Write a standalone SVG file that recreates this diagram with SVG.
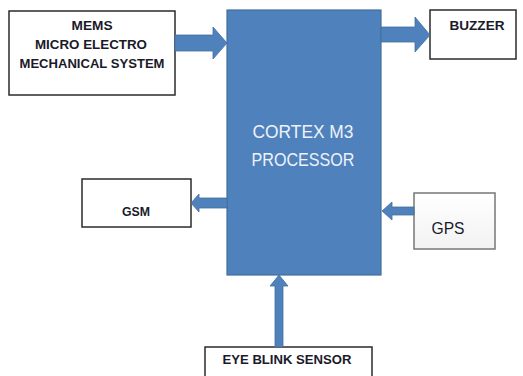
<svg xmlns="http://www.w3.org/2000/svg" width="523" height="376" viewBox="0 0 523 376">
<defs>
<style>
.box{fill:#fff;stroke:#2b2b2b;stroke-width:1.5}
.lbl{font-family:"Liberation Sans",Arial,sans-serif;font-weight:bold;font-size:12px;fill:#1a1a2a;text-anchor:middle}
.arr{fill:#4f81bd;stroke:#41719c;stroke-width:0.8}
.proc{fill:#4f81bd;stroke:#41719c;stroke-width:1.2}
.ptxt{font-family:"Liberation Sans",Arial,sans-serif;font-size:18px;fill:#eef3fa;text-anchor:middle}
</style>
<linearGradient id="gps" x1="0" y1="0" x2="0" y2="1">
<stop offset="0" stop-color="#ffffff"/>
<stop offset="1" stop-color="#f2f2f2"/>
</linearGradient>
</defs>
<rect width="523" height="376" fill="#fff"/>
<g id="processor">
<rect class="proc" x="227" y="10" width="154" height="265"/>
<text class="ptxt" x="303" y="138" textLength="101" lengthAdjust="spacingAndGlyphs">CORTEX M3</text>
<text class="ptxt" x="303" y="166" textLength="103" lengthAdjust="spacingAndGlyphs">PROCESSOR</text>
</g>
<g id="mems">
<rect class="box" x="9" y="11" width="166" height="84"/>
<text class="lbl" x="92" y="30" textLength="41" lengthAdjust="spacingAndGlyphs">MEMS</text>
<text class="lbl" x="91" y="49" textLength="112" lengthAdjust="spacingAndGlyphs">MICRO ELECTRO</text>
<text class="lbl" x="92" y="68" textLength="145" lengthAdjust="spacingAndGlyphs">MECHANICAL SYSTEM</text>
</g>
<g id="buzzer">
<rect class="box" x="430" y="10" width="86" height="49"/>
<text class="lbl" x="477" y="30" textLength="55" lengthAdjust="spacingAndGlyphs">BUZZER</text>
</g>
<g id="gsm">
<rect class="box" x="82" y="179" width="109" height="48"/>
<text class="lbl" x="136" y="216" textLength="28" lengthAdjust="spacingAndGlyphs">GSM</text>
</g>
<g id="gps-node">
<rect x="414" y="193" width="81" height="56" fill="url(#gps)" stroke="#777" stroke-width="1.5"/>
<text x="448" y="234" font-family="Liberation Sans,Arial,sans-serif" font-size="17" fill="#1a1a2a" text-anchor="middle" textLength="33" lengthAdjust="spacingAndGlyphs">GPS</text>
</g>
<g id="eyeblink">
<rect class="box" x="205" y="347" width="167" height="40"/>
<text class="lbl" x="287" y="364" textLength="129" lengthAdjust="spacingAndGlyphs">EYE BLINK SENSOR</text>
</g>
<g id="connectors">
<polygon class="arr" points="175,35 213,35 213,27 227,43 213,59 213,51 175,51"/>
<polygon class="arr" points="381,27 415,27 415,17 430,35 415,52 415,42 381,42"/>
<polygon class="arr" points="227,198 199,198 199,194 191,203 199,212 199,208 227,208"/>
<polygon class="arr" points="414,207 392,207 392,202 382,211 392,220 392,215 414,215"/>
<polygon class="arr" points="275,347 275,286 270,286 279,275 288,286 283,286 283,347"/>
</g>
</svg>
